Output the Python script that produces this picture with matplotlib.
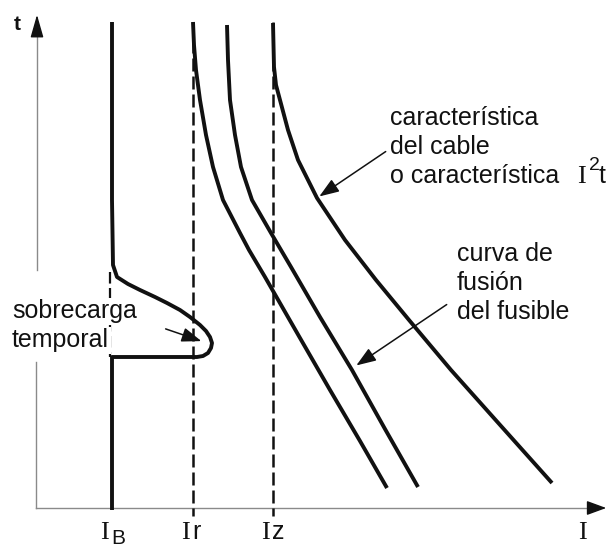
import numpy as np
from matplotlib import pyplot as plt

plt.rcParams['font.family'] = ['Liberation Sans', 'DejaVu Sans']
SERIF = 'Liberation Serif'

# schematic coordinates (picture units, y grows downwards)
# I_B : service current with a temporary overload bump
ib_x = [112, 112, 113, 117, 128, 140, 155, 167, 180, 190, 200, 206, 210, 212,
        211, 208, 203, 197, 112, 112]
ib_y = [22, 200, 265, 277, 284, 290, 297, 303, 310, 317, 325, 331, 337, 343,
        348, 353, 356, 357, 357, 510]
ib_dash_y = [272, 357]

# breaker / fuse curves
c1_x = [193, 194, 196, 200, 206, 213, 223, 240, 249, 265, 300, 330, 360, 387]
c1_y = [22, 45, 70, 100, 135, 167, 200, 233, 250, 277, 338, 390, 441, 488]
c2_x = [227, 228, 230, 235, 241, 252, 271, 291, 320, 352, 385, 418]
c2_y = [25, 60, 100, 135, 167, 200, 233, 267, 317, 370, 429, 487]
# cable characteristic I^2 t
c3_x = [273, 274, 276, 280, 288, 298, 317, 345, 376, 409, 451, 501, 552]
c3_y = [23, 67, 85, 100, 130, 160, 198, 240, 280, 320, 370, 426, 483]

# reference currents on the I axis
ref_x = {'Ir': 193, 'Iz': 273}
ref_y = [22, 516]

tick_x = [112, 193, 273, 590]
tick_suffix = ['B', 'r', 'z', '']

ink = '#111111'
fig = plt.figure(figsize=(6.09, 5.48), dpi=100)
ax = fig.add_axes([0, 0, 1, 1])
ax.set_xlim(0, 609)
ax.set_ylim(548, 0)
ax.axis('off')

# axes (y axis is interrupted behind the "sobrecarga" label)
ax.plot([36, 600], [508, 508], color='#8a8a8a', lw=1)
ax.plot([36, 36], [508, 362], color='#8a8a8a', lw=1)
ax.plot([37, 37], [270, 28], color='#8a8a8a', lw=1)
ax.annotate('', xy=(609, 508), xytext=(596, 508),
            arrowprops=dict(arrowstyle='-|>,head_length=0.6,head_width=0.22',
                            mutation_scale=20, color=ink, lw=1))
ax.annotate('', xy=(37, 12), xytext=(37, 26),
            arrowprops=dict(arrowstyle='-|>,head_length=0.7,head_width=0.2',
                            mutation_scale=20, color=ink, lw=1))
ax.text(17, 25, 't', fontsize=15, fontweight='bold', ha='center', va='center',
        color=ink)

# dashed reference lines
for k, x in ref_x.items():
    ax.plot([x, x], ref_y, color=ink, lw=1.8, linestyle=(0, (5.2, 2.0)))
ax.plot([110, 110], ib_dash_y, color=ink, lw=1.6, linestyle=(0, (5.2, 2.0)))

# curves
for xs, ys in [(ib_x, ib_y), (c1_x, c1_y), (c2_x, c2_y), (c3_x, c3_y)]:
    ax.plot(xs, ys, color=ink, lw=2.8, solid_capstyle='butt', zorder=3)

# tick labels: serif "I" followed by a sans suffix
for x, suf in zip(tick_x, tick_suffix):
    ax.text(x - 3, 539, 'I', fontsize=19, family=SERIF, ha='right',
            va='baseline', color=ink)
    if suf == 'B':
        ax.text(x - 1, 544, suf, fontsize=15, ha='left', va='baseline',
                color=ink)
    elif suf:
        ax.text(x - 1, 539, suf, fontsize=18, ha='left', va='baseline',
                color=ink)

# annotations
fs = 18
ax.text(390, 125, 'característica', fontsize=fs, color=ink)
ax.text(390, 154, 'del cable', fontsize=fs, color=ink)
ax.text(390, 183, 'o característica', fontsize=fs, color=ink)
ax.text(577, 183, 'I', fontsize=19, family=SERIF, color=ink)
ax.text(589, 170, '2', fontsize=14, color=ink)
ax.text(599, 183, 't', fontsize=fs, color=ink)
ax.annotate('', xy=(317, 198), xytext=(388, 150),
            arrowprops=dict(arrowstyle='-|>,head_length=0.6,head_width=0.22',
                            mutation_scale=20, color=ink, lw=1.1))

ax.text(457, 261, 'curva de', fontsize=fs, color=ink)
ax.text(457, 290, 'fusión', fontsize=fs, color=ink)
ax.text(457, 319, 'del fusible', fontsize=fs, color=ink)
ax.annotate('', xy=(354, 367), xytext=(449, 303),
            arrowprops=dict(arrowstyle='-|>,head_length=0.6,head_width=0.22',
                            mutation_scale=20, color=ink, lw=1.1))

bb = dict(facecolor='white', edgecolor='none', pad=1)
ax.text(12, 318, 'sobrecarga', fontsize=fs, color=ink, bbox=bb, zorder=4)
ax.text(12, 347, 'temporal', fontsize=fs, color=ink, bbox=bb, zorder=4)
ax.annotate('', xy=(204, 342), xytext=(163, 328),
            arrowprops=dict(arrowstyle='-|>,head_length=0.6,head_width=0.22',
                            mutation_scale=20, color=ink, lw=1.1), zorder=5)

fig.savefig('out.png', dpi=100, facecolor='white')
